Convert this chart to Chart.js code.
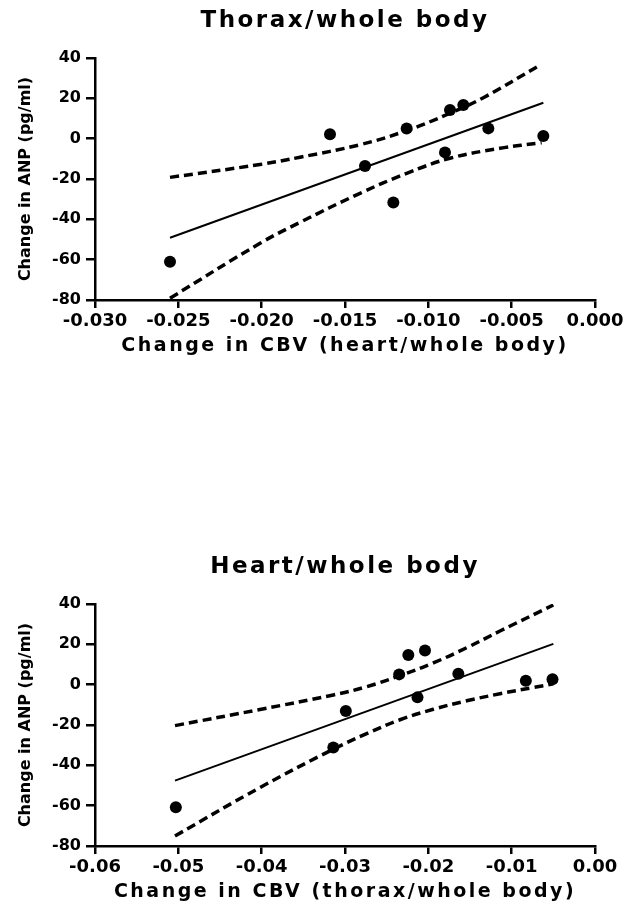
<!DOCTYPE html>
<html>
<head>
<meta charset="utf-8">
<script src="https://cdn.jsdelivr.net/npm/chart.js@4"></script>
<style>
  html, body { margin: 0; padding: 0; background: #fff; overflow: hidden; }
  .panel { position: absolute; left: 0; width: 639px; height: 357px; }
</style>
</head>
<body>
<div class="panel" style="top:0"><canvas id="thoraxChart"></canvas></div>
<div class="panel" style="top:546px"><canvas id="heartChart"></canvas></div>
<script>
// ---- top panel: change in CBV (heart/whole body) vs change in ANP ----
const thoraxX = [-0.0255, -0.0159, -0.0138, -0.0121, -0.0113, -0.0090, -0.0087, -0.0079, -0.0064, -0.0031];
const thoraxY = [-61.0, 2.2, -13.5, -31.7, 5.0, -6.8, 14.2, 16.7, 5.1, 1.3];
const thoraxFitX = [-0.0255, -0.0031];
const thoraxFitY = [-49.1, 17.8];
const thoraxUpperX = [-0.0255, -0.0201, -0.0177, -0.0141, -0.0113, -0.0087, -0.0067, -0.0033];
const thoraxUpperY = [-19.2, -12.8, -9.2, -3.0, 4.0, 12.6, 20.3, 36.5];
const thoraxLowerX = [-0.0255, -0.0201, -0.0177, -0.0141, -0.0113, -0.0087, -0.0057, -0.0032];
const thoraxLowerY = [-79.1, -51.9, -41.5, -27.1, -17.2, -9.7, -4.8, -2.0];
const thoraxXTicks = [-0.030, -0.025, -0.020, -0.015, -0.010, -0.005, 0];
const thoraxXLabels = ['-0.030', '-0.025', '-0.020', '-0.015', '-0.010', '-0.005', '0.000'];

// ---- bottom panel: change in CBV (thorax/whole body) vs change in ANP ----
const heartX = [-0.0503, -0.0314, -0.0299, -0.0235, -0.0224, -0.0213, -0.0204, -0.0164, -0.0083, -0.0051];
const heartY = [-60.8, -31.2, -13.0, 5.1, 14.7, -6.3, 16.9, 5.4, 2.0, 2.7];
const heartFitX = [-0.0504, -0.0050];
const heartFitY = [-47.6, 20.2];
const heartUpperX = [-0.0504, -0.0402, -0.0314, -0.0274, -0.0234, -0.0194, -0.0154, -0.0114, -0.0050];
const heartUpperY = [-20.3, -12.3, -5.1, -1.0, 4.5, 10.8, 18.3, 26.6, 39.5];
const heartLowerX = [-0.0504, -0.0402, -0.0314, -0.0274, -0.0234, -0.0194, -0.0154, -0.0114, -0.0074, -0.0050];
const heartLowerY = [-75.0, -51.0, -32.0, -24.3, -17.4, -12.2, -8.0, -4.5, -1.4, 0.4];
const heartXTicks = [-0.06, -0.05, -0.04, -0.03, -0.02, -0.01, 0];
const heartXLabels = ['-0.06', '-0.05', '-0.04', '-0.03', '-0.02', '-0.01', '0.00'];

const anpTicks = [-80, -60, -40, -20, 0, 20, 40];
const anpLabels = ['-80', '-60', '-40', '-20', '0', '20', '40'];

function pts(xs, ys) {
    return xs.map((x, i) => ({ x: x, y: ys[i] }));
}

// spaced-out lettering for the titles, plain for tick labels
const spacingPlugin = {
    id: 'spacing',
    beforeDraw(chart) { chart.ctx.letterSpacing = '2.5px'; },
    afterDatasetsDraw(chart) { chart.ctx.letterSpacing = '0px'; }
};

function makeChart(id, title, xTitle, d) {
    const ctx = document.getElementById(id).getContext('2d');
    return new Chart(ctx, {
        type: 'scatter',
        data: {
            datasets: [
                {
                    data: pts(d.x, d.y),
                    backgroundColor: '#000',
                    borderWidth: 0,
                    pointRadius: 6,
                    pointHoverRadius: 6
                },
                {
                    data: pts(d.fitX, d.fitY),
                    showLine: true,
                    borderColor: '#000',
                    borderWidth: 2,
                    pointRadius: 0
                },
                {
                    data: pts(d.upX, d.upY),
                    showLine: true,
                    borderColor: '#000',
                    borderWidth: 3.5,
                    borderDash: [9, 5],
                    tension: 0.4,
                    pointRadius: 0
                },
                {
                    data: pts(d.loX, d.loY),
                    showLine: true,
                    borderColor: '#000',
                    borderWidth: 3.5,
                    borderDash: [9, 5],
                    tension: 0.4,
                    pointRadius: 0
                }
            ]
        },
        options: {
            responsive: true,
            maintainAspectRatio: false,
            animation: false,
            layout: { padding: { left: 0, right: 44, top: 0, bottom: 0 } },
            plugins: {
                legend: { display: false },
                tooltip: { enabled: false },
                title: {
                    display: true,
                    fullSize: false,
                    text: title,
                    color: '#000',
                    font: { family: 'DejaVu Sans', size: 23, weight: 'bold', lineHeight: 1.2 },
                    padding: { top: 7, bottom: 23.4 }
                }
            },
            scales: {
                x: {
                    type: 'linear',
                    min: d.xTicks[0],
                    max: d.xTicks[d.xTicks.length - 1],
                    afterBuildTicks: (s) => { s.ticks = d.xTicks.map(v => ({ value: v })); },
                    afterFit: (s) => { s.height = 57; },
                    border: { display: true, color: '#000', width: 2.5 },
                    grid: { display: true, drawOnChartArea: false, drawTicks: true, tickLength: 8, color: '#000', lineWidth: 2.5 },
                    ticks: {
                        z: 1,
                        color: '#000',
                        padding: 3,
                        maxRotation: 0,
                        autoSkip: false,
                        font: { family: 'DejaVu Sans', size: 18, weight: 'bold' },
                        callback: (v, i) => d.xLabels[i]
                    },
                    title: {
                        display: true,
                        text: xTitle,
                        color: '#000',
                        font: { family: 'DejaVu Sans', size: 19, weight: 'bold', lineHeight: 1.2 },
                        padding: { top: 0, bottom: 0 }
                    }
                },
                y: {
                    type: 'linear',
                    min: -80,
                    max: 40,
                    afterBuildTicks: (s) => { s.ticks = anpTicks.map(v => ({ value: v })); },
                    afterFit: (s) => { s.width = 95; },
                    border: { z: 1, display: true, color: '#000', width: 2.5 },
                    grid: { z: 1, display: true, drawOnChartArea: false, drawTicks: true, tickLength: 9, color: '#000', lineWidth: 2.5 },
                    ticks: {
                        z: 1,
                        color: '#000',
                        padding: 5,
                        autoSkip: false,
                        font: { family: 'DejaVu Sans', size: 16, weight: 'bold' },
                        callback: (v, i) => anpLabels[i]
                    },
                    title: {
                        display: true,
                        text: 'Change in ANP (pg/ml)',
                        color: '#000',
                        font: { family: 'DejaVu Sans', size: 16, weight: 'bold', lineHeight: 1.2 },
                        padding: { top: 16, bottom: 0 }
                    }
                }
            }
        },
        plugins: [spacingPlugin]
    });
}

makeChart('thoraxChart', 'Thorax/whole body', 'Change in CBV (heart/whole body)', {
    x: thoraxX, y: thoraxY,
    fitX: thoraxFitX, fitY: thoraxFitY,
    upX: thoraxUpperX, upY: thoraxUpperY,
    loX: thoraxLowerX, loY: thoraxLowerY,
    xTicks: thoraxXTicks, xLabels: thoraxXLabels
});

makeChart('heartChart', 'Heart/whole body', 'Change in CBV (thorax/whole body)', {
    x: heartX, y: heartY,
    fitX: heartFitX, fitY: heartFitY,
    upX: heartUpperX, upY: heartUpperY,
    loX: heartLowerX, loY: heartLowerY,
    xTicks: heartXTicks, xLabels: heartXLabels
});
</script>
</body>
</html>
